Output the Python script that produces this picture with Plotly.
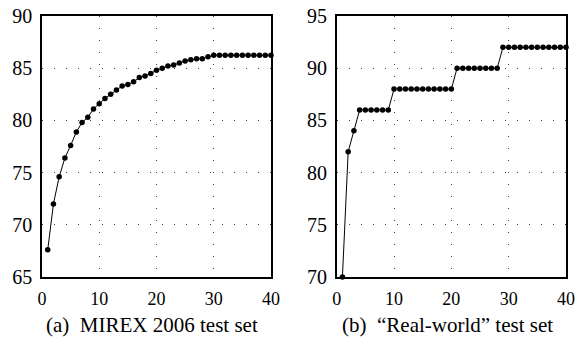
import plotly.graph_objects as go
from plotly.subplots import make_subplots

x_vals = list(range(1, 41))
mirex_acc = [67.6, 72.0, 74.6, 76.4, 77.6, 78.9, 79.8, 80.3, 81.1, 81.6,
             82.1, 82.5, 82.9, 83.3, 83.45, 83.7, 84.1, 84.25, 84.5, 84.8,
             85.0, 85.2, 85.3, 85.5, 85.7, 85.8, 85.9, 85.9, 86.1, 86.25,
             86.25, 86.25, 86.25, 86.25, 86.25, 86.25, 86.25, 86.25, 86.25, 86.25]
real_acc = [70, 82, 84, 86, 86, 86, 86, 86, 86, 88,
            88, 88, 88, 88, 88, 88, 88, 88, 88, 88,
            90, 90, 90, 90, 90, 90, 90, 90, 92, 92,
            92, 92, 92, 92, 92, 92, 92, 92, 92, 92]
x_ticks = [0, 10, 20, 30, 40]
left_y_ticks = [65, 70, 75, 80, 85, 90]
right_y_ticks = [70, 75, 80, 85, 90, 95]
captions = ["(a)\u00a0 MIREX 2006 test set", "(b)\u00a0 \u201cReal-world\u201d test set"]

FONT = "Liberation Serif"

fig = make_subplots(rows=1, cols=2)
for i, ys in enumerate([mirex_acc, real_acc]):
    fig.add_trace(go.Scatter(x=x_vals, y=ys, mode="lines+markers",
                             line=dict(color="black", width=1),
                             marker=dict(color="black", size=5.5),
                             cliponaxis=False, showlegend=False),
                  row=1, col=i + 1)

axis_common = dict(showline=True, linecolor="black", linewidth=1.5, mirror=True,
                   showgrid=True, gridcolor="#444", gridwidth=1, griddash="1px,11px",
                   zeroline=False, ticks="", automargin=False)

fig.update_layout(
    width=581, height=340,
    font=dict(family=FONT, size=19, color="black"),
    margin=dict(l=42, r=15, t=16, b=63),
    plot_bgcolor="white", paper_bgcolor="white",
    xaxis=dict(domain=[0, 0.437], range=[0, 40], tickvals=x_ticks,
               tickfont=dict(family=FONT, size=18, color="black"), **axis_common),
    xaxis2=dict(domain=[0.5624, 1.0], range=[0, 40], tickvals=x_ticks,
                tickfont=dict(family=FONT, size=18, color="black"), **axis_common),
    yaxis=dict(range=[65, 90], tickvals=left_y_ticks,
               tickfont=dict(family=FONT, size=20, color="black"), **axis_common),
    yaxis2=dict(range=[70, 95], tickvals=right_y_ticks,
                tickfont=dict(family=FONT, size=20, color="black"), **axis_common),
)
fig.update_xaxes(ticklabelstandoff=5)
fig.update_yaxes(ticklabelstandoff=4)

fig.add_annotation(text=captions[0], xref="paper", yref="paper", x=0.2105, y=-0.184,
                   xanchor="center", yanchor="middle", showarrow=False,
                   font=dict(family=FONT, size=21, color="black"))
fig.add_annotation(text=captions[1], xref="paper", yref="paper", x=0.7735, y=-0.184,
                   xanchor="center", yanchor="middle", showarrow=False,
                   font=dict(family=FONT, size=21, color="black"))

fig.write_html("out.html", config={"displayModeBar": False},
               post_script="document.body.style.margin='0px';")
